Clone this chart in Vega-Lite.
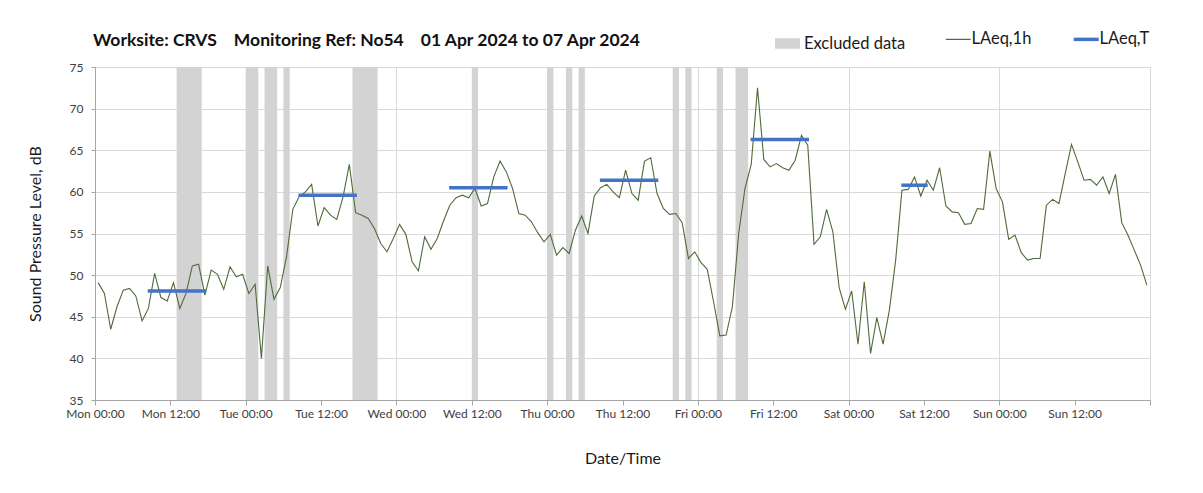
{
  "$schema": "https://vega.github.io/schema/vega-lite/v6.json",
  "autosize": {"type": "none"},
  "padding": {"left": 95, "top": 67, "right": 53, "bottom": 93},
  "width": 1055,
  "height": 333,
  "background": "white",
  "config": {
    "font": "Lato",
    "view": {"stroke": "#bfbfbf", "strokeWidth": 1},
    "axis": {"labelFont": "Lato", "titleFont": "Lato", "labelColor": "#404040", "titleColor": "#1a1a1a", "domainColor": "#a6a6a6", "tickColor": "#a6a6a6", "gridColor": "#d9d9d9", "labelFontSize": 12, "titleFontSize": 16, "titleFontWeight": "normal"},
    "legend": {"labelFont": "Lato", "labelFontSize": 16.5, "labelColor": "#1a1a1a"}
  },
  "title": {
    "text": "Worksite: CRVS\u00a0\u00a0\u00a0\u00a0Monitoring Ref: No54\u00a0\u00a0\u00a0\u00a001 Apr 2024 to 07 Apr 2024",
    "anchor": "start",
    "frame": "group",
    "offset": 20,
    "dx": -2,
    "dy": 38,
    "font": "Lato",
    "fontSize": 17.5,
    "fontWeight": "bold",
    "color": "#111111"
  },
  "datasets": {
    "bands": [
      {"start": 13, "end": 17, "kind": "Excluded data"},
      {"start": 24, "end": 26, "kind": "Excluded data"},
      {"start": 27, "end": 29, "kind": "Excluded data"},
      {"start": 30, "end": 31, "kind": "Excluded data"},
      {"start": 41, "end": 45, "kind": "Excluded data"},
      {"start": 60, "end": 61, "kind": "Excluded data"},
      {"start": 72, "end": 73, "kind": "Excluded data"},
      {"start": 75, "end": 76, "kind": "Excluded data"},
      {"start": 77, "end": 78, "kind": "Excluded data"},
      {"start": 92, "end": 93, "kind": "Excluded data"},
      {"start": 94, "end": 95, "kind": "Excluded data"},
      {"start": 99, "end": 100, "kind": "Excluded data"},
      {"start": 102, "end": 104, "kind": "Excluded data"}
    ],
    "lt": [
      {"start": 8.4, "end": 17.7, "L": 48.1},
      {"start": 32.4, "end": 41.7, "L": 59.6},
      {"start": 56.4, "end": 65.7, "L": 60.5},
      {"start": 80.4, "end": 89.7, "L": 61.4},
      {"start": 104.4, "end": 113.7, "L": 66.3},
      {"start": 128.4, "end": 132.6, "L": 60.8}
    ],
    "hourly": [
      {"h": 0.5, "L": 49.1}, {"h": 1.5, "L": 47.8}, {"h": 2.5, "L": 43.5}, {"h": 3.5, "L": 46.2}, {"h": 4.5, "L": 48.2}, {"h": 5.5, "L": 48.4}, {"h": 6.5, "L": 47.5}, {"h": 7.5, "L": 44.5}, {"h": 8.5, "L": 46.0}, {"h": 9.5, "L": 50.2},
      {"h": 10.5, "L": 47.3}, {"h": 11.5, "L": 46.9}, {"h": 12.5, "L": 49.1}, {"h": 13.5, "L": 46.0}, {"h": 14.5, "L": 47.8}, {"h": 15.5, "L": 51.1}, {"h": 16.5, "L": 51.3}, {"h": 17.5, "L": 47.6}, {"h": 18.5, "L": 50.6}, {"h": 19.5, "L": 50.1},
      {"h": 20.5, "L": 48.3}, {"h": 21.5, "L": 51.0}, {"h": 22.5, "L": 49.8}, {"h": 23.5, "L": 50.1}, {"h": 24.5, "L": 47.8}, {"h": 25.5, "L": 48.9}, {"h": 26.5, "L": 40.0}, {"h": 27.5, "L": 51.1}, {"h": 28.5, "L": 47.1}, {"h": 29.5, "L": 48.5},
      {"h": 30.5, "L": 52.2}, {"h": 31.5, "L": 57.9}, {"h": 32.5, "L": 59.4}, {"h": 33.5, "L": 60.0}, {"h": 34.5, "L": 60.9}, {"h": 35.5, "L": 55.9}, {"h": 36.5, "L": 58.1}, {"h": 37.5, "L": 57.2}, {"h": 38.5, "L": 56.7}, {"h": 39.5, "L": 59.4},
      {"h": 40.5, "L": 63.3}, {"h": 41.5, "L": 57.5}, {"h": 42.5, "L": 57.2}, {"h": 43.5, "L": 56.8}, {"h": 44.5, "L": 55.6}, {"h": 45.5, "L": 53.8}, {"h": 46.5, "L": 52.8}, {"h": 47.5, "L": 54.4}, {"h": 48.5, "L": 56.1}, {"h": 49.5, "L": 54.9},
      {"h": 50.5, "L": 51.6}, {"h": 51.5, "L": 50.5}, {"h": 52.5, "L": 54.6}, {"h": 53.5, "L": 53.1}, {"h": 54.5, "L": 54.4}, {"h": 55.5, "L": 56.5}, {"h": 56.5, "L": 58.4}, {"h": 57.5, "L": 59.3}, {"h": 58.5, "L": 59.6}, {"h": 59.5, "L": 59.3},
      {"h": 60.5, "L": 60.4}, {"h": 61.5, "L": 58.3}, {"h": 62.5, "L": 58.6}, {"h": 63.5, "L": 61.8}, {"h": 64.5, "L": 63.7}, {"h": 65.5, "L": 62.4}, {"h": 66.5, "L": 60.4}, {"h": 67.5, "L": 57.4}, {"h": 68.5, "L": 57.2}, {"h": 69.5, "L": 56.4},
      {"h": 70.5, "L": 55.1}, {"h": 71.5, "L": 54.0}, {"h": 72.5, "L": 54.9}, {"h": 73.5, "L": 52.4}, {"h": 74.5, "L": 53.3}, {"h": 75.5, "L": 52.6}, {"h": 76.5, "L": 55.4}, {"h": 77.5, "L": 57.1}, {"h": 78.5, "L": 55.0}, {"h": 79.5, "L": 59.5},
      {"h": 80.5, "L": 60.5}, {"h": 81.5, "L": 60.9}, {"h": 82.5, "L": 60.0}, {"h": 83.5, "L": 59.3}, {"h": 84.5, "L": 62.6}, {"h": 85.5, "L": 59.8}, {"h": 86.5, "L": 59.0}, {"h": 87.5, "L": 63.7}, {"h": 88.5, "L": 64.1}, {"h": 89.5, "L": 59.8},
      {"h": 90.5, "L": 58.0}, {"h": 91.5, "L": 57.3}, {"h": 92.5, "L": 57.4}, {"h": 93.5, "L": 56.3}, {"h": 94.5, "L": 52.0}, {"h": 95.5, "L": 52.8}, {"h": 96.5, "L": 51.5}, {"h": 97.5, "L": 50.7}, {"h": 98.5, "L": 46.8}, {"h": 99.5, "L": 42.7},
      {"h": 100.5, "L": 42.8}, {"h": 101.5, "L": 46.2}, {"h": 102.5, "L": 55.0}, {"h": 103.5, "L": 60.4}, {"h": 104.5, "L": 63.3}, {"h": 105.5, "L": 72.5}, {"h": 106.5, "L": 63.9}, {"h": 107.5, "L": 63.0}, {"h": 108.5, "L": 63.4}, {"h": 109.5, "L": 62.9},
      {"h": 110.5, "L": 62.6}, {"h": 111.5, "L": 63.8}, {"h": 112.5, "L": 66.8}, {"h": 113.5, "L": 65.6}, {"h": 114.5, "L": 53.7}, {"h": 115.5, "L": 54.6}, {"h": 116.5, "L": 57.9}, {"h": 117.5, "L": 55.2}, {"h": 118.5, "L": 48.5}, {"h": 119.5, "L": 45.9},
      {"h": 120.5, "L": 48.1}, {"h": 121.5, "L": 41.7}, {"h": 122.5, "L": 49.2}, {"h": 123.5, "L": 40.6}, {"h": 124.5, "L": 44.9}, {"h": 125.5, "L": 41.7}, {"h": 126.5, "L": 45.8}, {"h": 127.5, "L": 51.8}, {"h": 128.5, "L": 60.2}, {"h": 129.5, "L": 60.3},
      {"h": 130.5, "L": 61.8}, {"h": 131.5, "L": 59.5}, {"h": 132.5, "L": 61.4}, {"h": 133.5, "L": 60.2}, {"h": 134.5, "L": 62.9}, {"h": 135.5, "L": 58.3}, {"h": 136.5, "L": 57.6}, {"h": 137.5, "L": 57.5}, {"h": 138.5, "L": 56.1}, {"h": 139.5, "L": 56.2},
      {"h": 140.5, "L": 58.0}, {"h": 141.5, "L": 57.9}, {"h": 142.5, "L": 64.9}, {"h": 143.5, "L": 60.4}, {"h": 144.5, "L": 58.8}, {"h": 145.5, "L": 54.3}, {"h": 146.5, "L": 54.8}, {"h": 147.5, "L": 52.7}, {"h": 148.5, "L": 51.8}, {"h": 149.5, "L": 52.0},
      {"h": 150.5, "L": 52.0}, {"h": 151.5, "L": 58.4}, {"h": 152.5, "L": 59.1}, {"h": 153.5, "L": 58.6}, {"h": 154.5, "L": 62.2}, {"h": 155.5, "L": 65.7}, {"h": 156.5, "L": 63.6}, {"h": 157.5, "L": 61.4}, {"h": 158.5, "L": 61.5}, {"h": 159.5, "L": 60.8},
      {"h": 160.5, "L": 61.8}, {"h": 161.5, "L": 59.8}, {"h": 162.5, "L": 62.1}, {"h": 163.5, "L": 56.3}, {"h": 164.5, "L": 54.8}, {"h": 165.5, "L": 53.0}, {"h": 166.5, "L": 51.2}, {"h": 167.5, "L": 48.8}
    ]
  },
  "layer": [
    {
      "data": {"name": "bands"},
      "mark": {"type": "rect", "opacity": 1},
      "encoding": {
        "x": {
          "field": "start", "type": "quantitative",
          "scale": {"domain": [0, 168], "nice": false, "zero": false},
          "axis": {
            "title": "Date/Time",
            "values": [0, 12, 24, 36, 48, 60, 72, 84, 96, 108, 120, 132, 144, 156, 168],
            "labelExpr": "datum.value >= 168 ? '' : ['Mon','Tue','Wed','Thu','Fri','Sat','Sun'][floor(datum.value / 24)] + ' ' + (datum.value % 24 === 0 ? '00:00' : '12:00')",
            "grid": true,
            "gridOpacity": {"condition": {"test": "datum.value % 24 === 0", "value": 1}, "value": 0},
            "tickSize": 5,
            "labelPadding": 3,
            "titlePadding": 31,
            "labelFlush": false
          }
        },
        "x2": {"field": "end"},
        "fill": {
          "field": "kind", "type": "nominal",
          "scale": {"domain": ["Excluded data"], "range": ["#d3d3d3"]},
          "legend": {
            "title": null,
            "orient": "none",
            "legendX": 680,
            "legendY": -36,
            "symbolType": "M-1,-0.42H1V0.42H-1Z",
            "symbolSize": 625,
            "symbolStrokeWidth": 0,
            "labelOffset": 4
          }
        }
      }
    },
    {
      "data": {"name": "hourly"},
      "mark": {"type": "line", "strokeWidth": 1.1},
      "encoding": {
        "x": {"field": "h", "type": "quantitative"},
        "y": {
          "field": "L", "type": "quantitative",
          "scale": {"domain": [35, 75], "nice": false, "zero": false},
          "axis": {
            "title": "Sound Pressure Level, dB",
            "values": [35, 40, 45, 50, 55, 60, 65, 70, 75],
            "tickSize": 4,
            "labelPadding": 8,
            "titlePadding": 26
          }
        },
        "stroke": {
          "datum": "LAeq,1h", "type": "nominal",
          "scale": {"domain": ["LAeq,1h", "LAeq,T"], "range": ["#4f6b3a", "#4472c4"]},
          "legend": {
            "title": null,
            "orient": "none",
            "direction": "horizontal",
            "legendX": 855,
            "legendY": -36,
            "symbolType": "stroke",
            "symbolSize": 625,
            "columnPadding": 34,
            "labelOffset": 5,
            "encode": {
              "symbols": {
                "update": {
                  "strokeWidth": {"signal": "datum.label === 'LAeq,T' ? 3.5 : 1.2"}
                }
              }
            }
          }
        }
      }
    },
    {
      "data": {"name": "lt"},
      "mark": {"type": "rule", "strokeWidth": 3.5},
      "encoding": {
        "x": {"field": "start", "type": "quantitative"},
        "x2": {"field": "end"},
        "y": {"field": "L", "type": "quantitative"},
        "stroke": {"datum": "LAeq,T", "type": "nominal"}
      }
    }
  ]
}
